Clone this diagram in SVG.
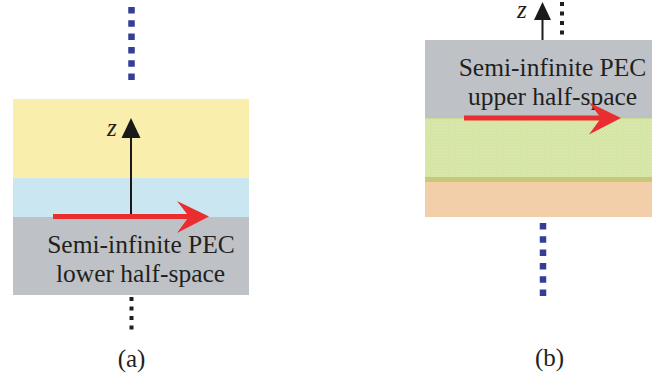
<svg xmlns="http://www.w3.org/2000/svg" width="652" height="383" viewBox="0 0 652 383">
<style>
.txt{font-family:"Liberation Serif","Times New Roman",serif;fill:#231f20;}
.lbl{font-size:25.5px;text-anchor:middle;}
.zl{font-size:25px;font-style:italic;}
.cap{font-size:25px;text-anchor:middle;}
.blue{stroke:#343e99;stroke-width:6.5;stroke-dasharray:6.5 6.8;fill:none;}
.blk{stroke:#1f1f1f;stroke-width:4;stroke-dasharray:4 5.5;fill:none;}
.axis{stroke:#1a1a1a;stroke-width:2;fill:none;}
.red{fill:#ea2d2e;}
</style>
<defs>
<pattern id="hatch" width="3" height="3" patternUnits="userSpaceOnUse">
<rect width="3" height="3" fill="#d3e4a1"/>
<rect x="0" y="0" width="1" height="1" fill="#e3edc0"/>
<rect x="1.5" y="1.5" width="1" height="1" fill="#e3edc0"/>
</pattern>
<path id="ahead" d="M0,0 L-32,-15.5 L-20,0 L-32,16.5 Z"/>
</defs>

<g id="panel-a">
<g id="a-layer-top"><rect x="13" y="99" width="236" height="79" fill="#f9eeac"/></g>
<g id="a-layer-mid"><rect x="13" y="178" width="236" height="39" fill="#c9e6f1"/></g>
<g id="a-pec"><rect x="13" y="217" width="236" height="78" fill="#bec2c7"/>
<text class="txt lbl" x="141" y="253">Semi-infinite PEC</text>
<text class="txt lbl" x="140.5" y="282">lower half-space</text>
</g>
<text class="txt cap" x="131.5" y="367">(a)</text>
</g>

<g id="panel-b">
<g id="b-pec"><rect x="425" y="40" width="227" height="78" fill="#bec2c7"/>
<text class="txt lbl" x="552.5" y="76">Semi-infinite PEC</text>
<text class="txt lbl" x="552.5" y="105">upper half-space</text>
</g>
<g id="b-layer-mid"><rect x="425" y="118" width="227" height="59" fill="url(#hatch)"/>
<rect x="425" y="118" width="227" height="0.8" fill="#c9d98f"/>
<rect x="425" y="177" width="227" height="5" fill="#c9c77a"/></g>
<g id="b-layer-bot"><rect x="425" y="182" width="227" height="35" fill="#f2cea9"/></g>
<text class="txt cap" x="549.5" y="366">(b)</text>
</g>

<g id="connectors">
<!-- panel a -->
<line class="blue" x1="131.5" y1="7" x2="131.5" y2="80"/>
<line class="blk" x1="131.5" y1="297" x2="131.5" y2="330"/>
<line class="axis" x1="131" y1="217" x2="131" y2="136"/>
<path d="M131,118 L121.5,138 L140.5,138 Z" fill="#1a1a1a"/>
<text class="txt zl" x="107" y="136">z</text>
<rect class="red" x="53" y="214" width="138" height="5"/>
<use href="#ahead" class="red" x="209" y="216.5"/>
<!-- panel b -->
<line class="blk" x1="562" y1="2" x2="562" y2="37"/>
<line class="blue" x1="543" y1="223" x2="543" y2="296"/>
<line class="axis" x1="542.5" y1="40" x2="542.5" y2="18"/>
<path d="M542.5,2 L534,20 L551,20 Z" fill="#1a1a1a"/>
<text class="txt zl" x="517" y="18">z</text>
<rect class="red" x="464" y="115.5" width="138" height="5"/>
<use href="#ahead" class="red" x="621" y="118"/>
</g>
</svg>
